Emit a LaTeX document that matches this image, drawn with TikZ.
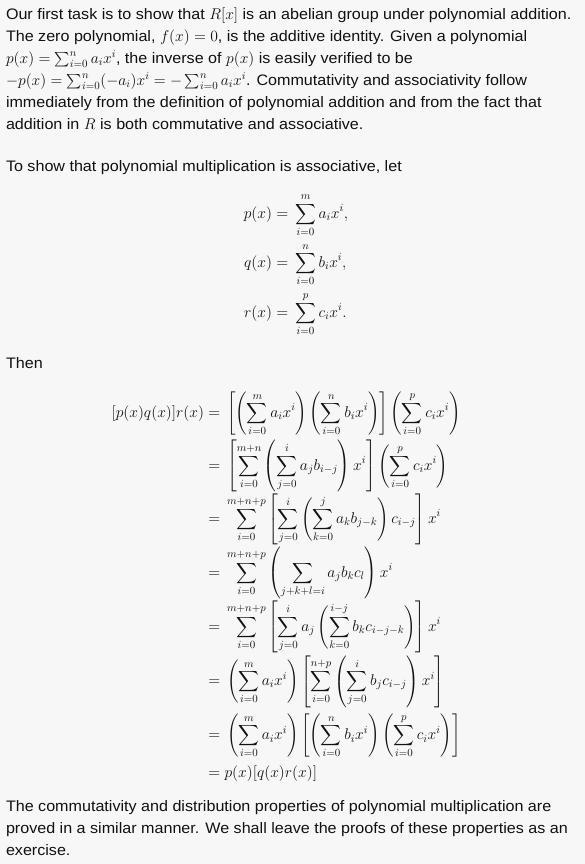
\RequirePackage{fix-cm}
\documentclass[tikz,border=0pt]{standalone}
\usepackage{amsmath}
\usepackage[no-math]{fontspec}
\setmainfont{Liberation Sans}[FakeStretch=1.06]
\definecolor{bg}{HTML}{F7F7F7}
\definecolor{ink}{HTML}{111111}
\newcommand\M[1]{{\fontsize{15.6}{21}\selectfont$#1$}}
\tikzset{
  txt/.style={anchor=base west, inner sep=0pt, outer sep=0pt, text=ink, font=\fontsize{15.2}{22}\selectfont},
  mrhs/.style={anchor=base west, inner sep=0pt, outer sep=0pt, text=ink, font=\fontsize{15.6}{21}\selectfont},
  mlhs/.style={anchor=base east, inner sep=0pt, outer sep=0pt, text=ink, font=\fontsize{15.6}{21}\selectfont}
}
\begin{document}
\begin{tikzpicture}[x=1pt,y=-1pt]
\path[fill=bg,use as bounding box] (0,0) rectangle (585,864);
% paragraph 1
\node[txt] (t1) at (6,19.5) {Our first task is to show that \M{R[x]} is an abelian group under polynomial addition.};
\node[txt] (t2) at (6,41.4) {The zero polynomial, \M{f(x)=0}, is the additive identity. Given a polynomial};
\node[txt] (t3) at (6,63.3) {\M{p(x)=\sum_{i=0}^n a_ix^i}, the inverse of \M{p(x)} is easily verified to be};
\node[txt] (t4) at (6,85.2) {\M{-p(x)=\sum_{i=0}^n(-a_i)x^i=-\sum_{i=0}^n a_ix^i}. Commutativity and associativity follow};
\node[txt] (t5) at (6,107.1) {immediately from the definition of polynomial addition and from the fact that};
\node[txt] (t6) at (6,129) {addition in \M{R} is both commutative and associative.};
% paragraph 2
\node[txt] (t7) at (6,171.5) {To show that polynomial multiplication is associative, let};
% p q r display
\node[mlhs] (pl) at (272,218) {$p(x)$};
\node[mrhs] (pr) at (272,218) {$\displaystyle {}={}\sum_{i=0}^{m} a_ix^i,$};
\node[mlhs] (ql) at (272,267.3) {$q(x)$};
\node[mrhs] (qr) at (272,267.3) {$\displaystyle {}={}\sum_{i=0}^{n} b_ix^i,$};
\node[mlhs] (rl) at (272,317.3) {$r(x)$};
\node[mrhs] (rr) at (272,317.3) {$\displaystyle {}={}\sum_{i=0}^{p} c_ix^i.$};
\node[txt] (t8) at (6,368) {Then};
% big display
\node[mlhs] (l1) at (204,417.3) {$[p(x)q(x)]r(x)$};
\node[mrhs] (r1) at (204,417.3) {$\displaystyle {}={}\left[\left(\sum_{i=0}^{m} a_ix^i\right)\left(\sum_{i=0}^{n} b_ix^i\right)\right]\left(\sum_{i=0}^{p} c_ix^i\right)$};
\node[mrhs] (r2) at (204,470.2) {$\displaystyle {}={}\left[\sum_{i=0}^{m+n}\left(\sum_{j=0}^{i} a_jb_{i-j}\right)x^i\right]\left(\sum_{i=0}^{p} c_ix^i\right)$};
\node[mrhs] (r3) at (204,523.3) {$\displaystyle {}={}\sum_{i=0}^{m+n+p}\left[\sum_{j=0}^{i}\left(\sum_{k=0}^{j} a_kb_{j-k}\right)c_{i-j}\right]x^i$};
\node[mrhs] (r4) at (204,577) {$\displaystyle {}={}\sum_{i=0}^{m+n+p}\left(\sum_{j+k+l=i} a_jb_kc_l\right)x^i$};
\node[mrhs] (r5) at (204,631) {$\displaystyle {}={}\sum_{i=0}^{m+n+p}\left[\sum_{j=0}^{i} a_j\left(\sum_{k=0}^{i-j} b_kc_{i-j-k}\right)\right]x^i$};
\node[mrhs] (r6) at (204,685.5) {$\displaystyle {}={}\left(\sum_{i=0}^{m} a_ix^i\right)\left[\sum_{i=0}^{n+p}\left(\sum_{j=0}^{i} b_jc_{i-j}\right)x^i\right]$};
\node[mrhs] (r7) at (204,739.7) {$\displaystyle {}={}\left(\sum_{i=0}^{m} a_ix^i\right)\left[\left(\sum_{i=0}^{n} b_ix^i\right)\left(\sum_{i=0}^{p} c_ix^i\right)\right]$};
\node[mrhs] (r8) at (204,777) {$\displaystyle {}={}p(x)[q(x)r(x)]$};
% final paragraph
\node[txt] (t9) at (6,811.7) {The commutativity and distribution properties of polynomial multiplication are};
\node[txt] (t10) at (6,833.4) {proved in a similar manner. We shall leave the proofs of these properties as an};
\node[txt] (t11) at (6,855.1) {exercise.};
\end{tikzpicture}
\end{document}
